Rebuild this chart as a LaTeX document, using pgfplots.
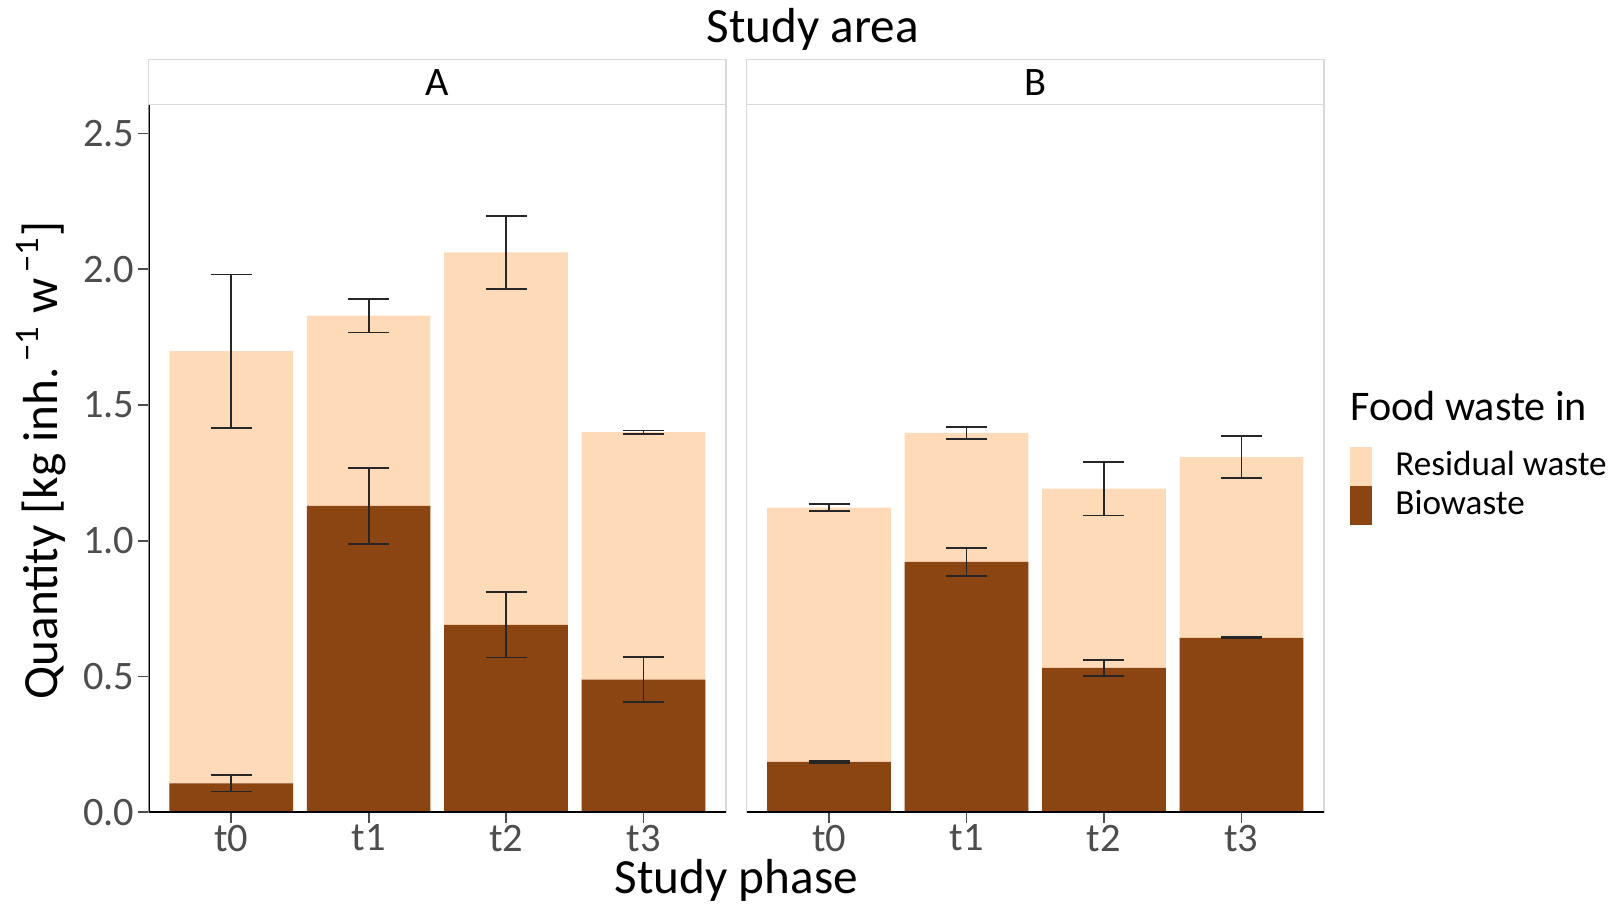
\documentclass[border=0pt]{standalone}
\usepackage{fontspec}
\setmainfont{Carlito}
\usepackage{pgfplots}
\pgfplotsset{compat=1.18}

\definecolor{resid}{RGB}{255,218,185}
\definecolor{bio}{RGB}{139,69,19}
\definecolor{panelgrey}{RGB}{217,217,217}
\definecolor{ticktext}{RGB}{77,77,77}

% value, error for each phase (1=t0 ... 4=t3)
\pgfplotstableread{
x y e
1 1.698 0.282
2 1.829 0.062
3 2.062 0.135
4 1.400 0.006
}\residA
\pgfplotstableread{
x y e
1 0.106 0.030
2 1.128 0.140
3 0.690 0.120
4 0.488 0.083
}\bioA
\pgfplotstableread{
x y e
1 1.122 0.012
2 1.397 0.023
3 1.192 0.099
4 1.308 0.078
}\residB
\pgfplotstableread{
x y e
1 0.185 0.004
2 0.922 0.051
3 0.532 0.029
4 0.642 0.002
}\bioB

\pgfplotsset{
  facet/.style={
    scale only axis, width=57.73mm, height=70.76mm,
    xmin=0.4, xmax=4.6, ymin=0, ymax=2.606,
    ybar, bar width=0.9,
    xtick={1,2,3,4}, xticklabels={t0,t1,t2,t3},
    xtick pos=bottom, ytick pos=left, tick align=outside,
    major tick length=1.1mm,
    tick style={draw=ticktext, line width=0.5pt},
    axis line style={draw=panelgrey, line width=0.45pt},
    ticklabel style={font=\fontsize{11.5}{13}\selectfont, text=ticktext},
    xticklabel style={inner sep=0pt, yshift=-0.1mm},
    yticklabel style={xshift=0.9mm, /pgf/number format/.cd, fixed, fixed zerofill, precision=1, assume math mode=true},
  },
  wbar/.style={bar shift=0pt, fill=#1, draw=none,
    error bars/.cd, y dir=both, y explicit,
    error bar style={line width=0.5pt, black!85},
    error mark options={rotate=90, line width=0.5pt, black!85, mark size=2.05mm}},
}

\begin{document}
\begin{tikzpicture}
\useasboundingbox (0,0) rectangle (160.8mm,90.3mm);

\begin{axis}[facet, name=A, at={(14.87mm,9.08mm)}, anchor=south west,
  ytick={0,0.5,1,1.5,2,2.5}]
  \addplot[wbar=resid] table[x=x, y=y, y error=e] {\residA};
  \addplot[wbar=bio] table[x=x, y=y, y error=e] {\bioA};
  \draw[black, line width=0.75pt] (rel axis cs:0,1) -- (rel axis cs:0,0) -- (rel axis cs:1,0);
\end{axis}

\begin{axis}[facet, name=B, at={(74.66mm,9.08mm)}, anchor=south west,
  ytick=\empty,
  legend style={at={([xshift=2.57mm]axis description cs:1,0.5175)}, anchor=north west,
    draw=none, fill=none, inner sep=0pt, row sep=0pt,
    font=\fontsize{10}{12}\selectfont, nodes={inner sep=0pt},
    /tikz/every odd column/.style={column sep=2.37mm}},
  legend cell align=left,
  legend image code/.code={\fill[#1, draw=none] (0mm,-1.95mm) rectangle (2.14mm,1.95mm);}]
  \addplot[wbar=resid] table[x=x, y=y, y error=e] {\residB};
  \addlegendentry{Residual waste}
  \addplot[wbar=bio] table[x=x, y=y, y error=e] {\bioB};
  \addlegendentry{Biowaste}
  \draw[black, line width=0.75pt] (rel axis cs:0,0) -- (rel axis cs:1,0);
\end{axis}

% facet strips
\draw[panelgrey, line width=0.45pt, fill=white] (A.north west) rectangle ([yshift=4.51mm]A.north east);
\draw[panelgrey, line width=0.45pt, fill=white] (B.north west) rectangle ([yshift=4.51mm]B.north east);
\node[font=\fontsize{11.5}{13}\selectfont] at ([yshift=2.255mm]A.north) {A};
\node[font=\fontsize{11.5}{13}\selectfont] at ([yshift=2.255mm]B.north) {B};

\node[anchor=base, font=\fontsize{14}{16}\selectfont] at (81.27mm,86.0mm) {Study area};
\node[anchor=base, inner sep=0pt, font=\fontsize{14}{16}\selectfont] at (73.63mm,1.0mm) {Study phase};
\node[rotate=90, font=\fontsize{14}{16}\selectfont] at (4.1mm,44.26mm)
  {Quantity [kg inh.\textsuperscript{\,−1} w\textsuperscript{\,−1}]};
\node[anchor=base west, inner sep=0pt, font=\fontsize{12}{14}\selectfont] at (134.96mm,48.25mm) {Food waste in};
\end{tikzpicture}
\end{document}
